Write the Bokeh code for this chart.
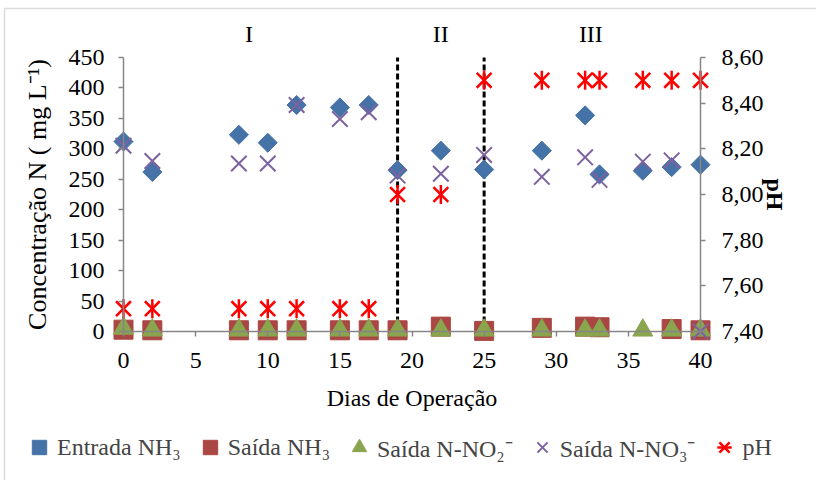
import math
from bokeh.plotting import figure
from bokeh.models import (Range1d, LinearAxis, FixedTicker, CustomJSTickFormatter,
                          Legend, LegendItem, BoxAnnotation)
from bokeh.core.properties import value
from bokeh.embed import file_html
from bokeh.resources import INLINE

# ---------------- data ----------------
dias = [0, 2, 8, 10, 12, 15, 17, 19, 22, 25, 29, 32, 33, 36, 38, 40]
entrada_nh3 = [312, 262, 323, 310, 372, 368, 372, 265, 297, 266, 297, 355, 258, 264, 270, 274]
saida_no3 = [305, 280, 276, 276, 372, 349, 360, 256, 259, 290, 254, 286, 249, 279, 281, 0]
dias_nh3 = [0, 2, 8, 10, 12, 15, 17, 19, 22, 25, 29, 32, 33, 38, 40]
saida_nh3 = [3, 2, 2, 2, 2, 2, 2, 2, 8, 1, 6, 8, 7, 4, 2]
saida_no2 = [5, 2, 2, 2, 2, 2, 2, 2, 2, 2, 2, 2, 2, 2, 2, 2]
ph = [7.5, 7.5, 7.5, 7.5, 7.5, 7.5, 7.5, 8.0, 8.0, 8.5, 8.5, 8.5, 8.5, 8.5, 8.5, 8.5]

fases_limites = [19, 25]
fases_rotulos = ["I", "II", "III"]
fases_x = [8.7, 22.0, 32.4]
fases_y = [489, 489, 489]

x_ticks = [0, 5, 10, 15, 20, 25, 30, 35, 40]
y_ticks = [0, 50, 100, 150, 200, 250, 300, 350, 400, 450]
ph_ticks = [7.4, 7.6, 7.8, 8.0, 8.2, 8.4, 8.6]

# ---------------- styles ----------------
FONT = "Liberation Serif"
FS = "24px"
AXIS_COLOR = "#868686"
C_ENT = "#4572A7"
C_NH3 = "#AA4643"
C_NO2 = "#89A54E"
C_NO3 = "#7D62A0"
C_PH = "#FF0000"

W, H = 816, 480
X0_PX, X40_PX = 123.0, 700.0      # screen x of day 0 / day 40
Y0_PX, Y450_PX = 331.0, 57.0      # screen y of 0 / 450
sx = (X40_PX - X0_PX) / 40.0
sy = (Y0_PX - Y450_PX) / 450.0
XR = (-X0_PX / sx, (W - X0_PX) / sx)
YR = (-(H - Y0_PX) / sy, Y0_PX / sy)
K = 1.2 / 450.0

p = figure(width=W, height=H, output_backend="svg", toolbar_location=None,
           x_range=Range1d(*XR), y_range=Range1d(*YR),
           min_border=0, min_border_left=0, min_border_right=0,
           min_border_top=0, min_border_bottom=0)
p.extra_y_ranges = {"ph": Range1d(7.4 + YR[0] * K, 7.4 + YR[1] * K)}
p.outline_line_color = None
p.xgrid.visible = False
p.ygrid.visible = False

# outer chart border (left and top edges visible)
p.add_layout(BoxAnnotation(left=(4 - X0_PX) / sx, right=XR[1] + 20,
                           top=(Y0_PX - 8) / sy, bottom=YR[0] - 200,
                           fill_alpha=0, line_color="#8c8c8c", line_width=1.5))


def style_axis(ax):
    ax.axis_line_color = AXIS_COLOR
    ax.axis_line_width = 1.5
    ax.major_tick_line_color = AXIS_COLOR
    ax.major_tick_line_width = 1.5
    ax.major_tick_out = 5
    ax.major_tick_in = 0
    ax.minor_tick_line_color = None
    ax.major_label_text_font = FONT
    ax.major_label_text_font_size = FS
    ax.major_label_text_color = "black"
    ax.axis_label_text_font = FONT
    ax.axis_label_text_font_size = FS
    ax.axis_label_text_font_style = "normal"
    ax.axis_label_text_color = "black"


xa = p.xaxis[0]
xa.fixed_location = 0
xa.bounds = (0, 40)
xa.ticker = FixedTicker(ticks=x_ticks)
xa.axis_label = "Dias de Operação"
style_axis(xa)
xa.major_label_standoff = 16
xa.axis_label_standoff = 14

ya = p.yaxis[0]
ya.fixed_location = 0
ya.bounds = (0, 450)
ya.ticker = FixedTicker(ticks=y_ticks)
ya.axis_label = "Concentração N ( mg L⁻¹)"
style_axis(ya)
ya.axis_label_text_font_size = "26px"
ya.major_label_standoff = 14
ya.axis_label_standoff = 14

ra = LinearAxis(y_range_name="ph", fixed_location=40, bounds=(7.4, 8.6),
                ticker=FixedTicker(ticks=ph_ticks),
                formatter=CustomJSTickFormatter(code="return tick.toFixed(2).replace('.', ',');"),
                axis_label="pH")
style_axis(ra)
ra.axis_label_text_font_style = "bold"
ra.major_label_standoff = 16
ra.axis_label_standoff = -5
p.add_layout(ra, "right")

# phase separators and labels
p.segment(x0=fases_limites, y0=[0, 0], x1=fases_limites, y1=[450, 450],
          line_color="black", line_width=3, line_dash="6 3")
p.text(x=fases_x, y=fases_y, text=fases_rotulos, text_font=value(FONT),
       text_font_size=FS, text_align="center", text_baseline="middle", text_color="black")

# series
r_ent = p.scatter(dias, entrada_nh3, marker="square", angle=math.pi / 4, size=13.5,
                  fill_color=C_ENT, line_color=C_ENT)
r_nh3 = p.scatter(dias_nh3, saida_nh3, marker="square", size=19,
                  fill_color=C_NH3, line_color=C_NH3)
r_no2 = p.scatter(dias, saida_no2, marker="triangle", size=20,
                  fill_color=C_NO2, line_color=C_NO2)
r_no3 = p.scatter(dias, saida_no3, marker="x", size=22, line_color=C_NO3, line_width=2)
r_ph1 = p.scatter(dias, ph, y_range_name="ph", marker="x", size=21,
                  line_color=C_PH, line_width=2.5)
r_ph2 = p.scatter(dias, ph, y_range_name="ph", marker="dash", angle=math.pi / 2, size=19,
                  line_color=C_PH, line_width=2.5)

legend = Legend(items=[
    LegendItem(label="Entrada NH₃", renderers=[r_ent]),
    LegendItem(label="Saída NH₃", renderers=[r_nh3]),
    LegendItem(label="Saída N-NO₂⁻", renderers=[r_no2]),
    LegendItem(label="Saída N-NO₃⁻", renderers=[r_no3]),
    LegendItem(label="pH", renderers=[r_ph1, r_ph2]),
], orientation="horizontal", location=(21, 15))
legend.label_text_font = FONT
legend.label_text_font_size = FS
legend.label_standoff = 0
legend.glyph_width = 36
legend.glyph_height = 36
legend.spacing = 11
legend.padding = 0
legend.margin = 0
legend.border_line_color = None
legend.background_fill_alpha = 0
p.add_layout(legend)

open("out.html", "w").write(file_html(p, INLINE))
